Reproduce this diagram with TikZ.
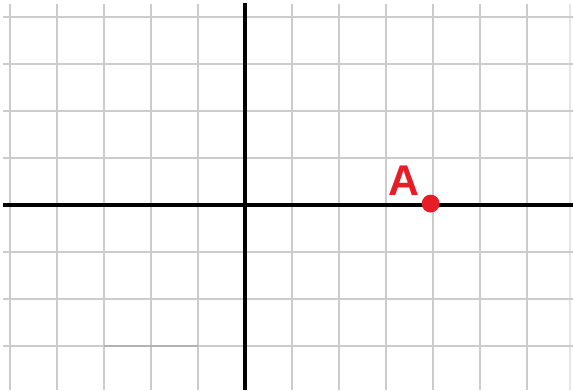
\documentclass[tikz,border=0pt]{standalone}
\usepackage{fontspec}
\newfontfamily\labelfont{Liberation Sans}
\definecolor{pointred}{RGB}{230,28,38}
\usetikzlibrary{positioning}

\begin{document}
\begin{tikzpicture}[
    gridline/.style={gray!40, line width=0.8pt},
    axisline/.style={black, line width=2.4pt},
    dotpoint/.style={circle, fill=pointred, inner sep=0pt, minimum size=0.38cm},
    pointlabel/.style={text=pointred, font=\labelfont\bfseries\fontsize{26}{26}\selectfont, inner sep=0pt}
  ]
        \useasboundingbox (-5.2128,-3.9362) rectangle (6.9787,4.3617);
        \fill[white] (-5.2128,-3.9362) rectangle (6.9787,4.3617);

        % Grid
        \foreach \x in {-5,...,-1,1,2,...,6}
          \draw[gridline] (\x,4.28) -- (\x,-3.94);
        \draw[gridline, gray!20] (6.915,4.28) -- (6.915,-3.94);
        \foreach \y in {-3,...,-1,1,2,...,4}
          \draw[gridline] (-5.15,\y) -- (6.98,\y);
        \draw[gridline, gray!60] (-3,-3) -- (-1,-3);

        % Axes
        \draw[axisline] (-5.15,0) -- (6.98,0);
        \draw[axisline] (0,4.30) -- (0,-3.94);

        % Point A
        \node[dotpoint] (A) at (3.95,0.03) {};
        \node[pointlabel, above left=0.02cm and 0.08cm of A] (Alabel) {A};
      \end{tikzpicture}
\end{document}
